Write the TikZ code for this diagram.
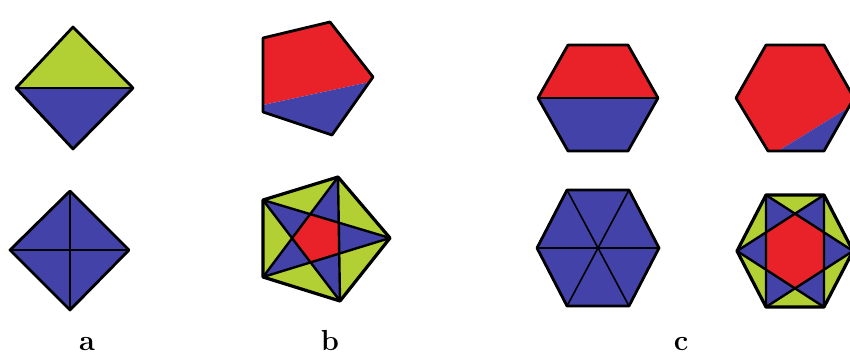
\documentclass[tikz,border=0pt]{standalone}
\usetikzlibrary{calc}
\definecolor{cgreen}{RGB}{178,208,52}
\definecolor{cblue}{RGB}{66,66,168}
\definecolor{cred}{RGB}{232,34,40}
\begin{document}
\begin{tikzpicture}[x=1pt,y=-1pt,
  outline/.style={draw=black,line width=2.8pt,line join=round},
  starline/.style={draw=black,line width=2.4pt,line join=round},
  innerline/.style={draw=black,line width=1.6pt},
  lbl/.style={font=\fontsize{29}{34}\selectfont\bfseries,anchor=base,inner sep=0pt}]
\useasboundingbox (0,0) rectangle (850,357);
\begin{scope}
\clip (0,0) rectangle (850,357);

% ---------- a, top diamond
\coordinate (aT) at (73,27);
\coordinate (aL) at (16,88);
\coordinate (aR) at (133,88);
\coordinate (aB) at (73,149);
\fill[cgreen] (aT) -- (aR) -- (aL) -- cycle;
\fill[cblue] (aL) -- (aR) -- (aB) -- cycle;
\draw[innerline] (aL) -- (aR);
\draw[outline] (aT) -- (aR) -- (aB) -- (aL) -- cycle;

% ---------- a, bottom diamond
\coordinate (dT) at (70,191);
\coordinate (dL) at (10,250);
\coordinate (dR) at (129,250);
\coordinate (dB) at (70,310);
\fill[cblue] (dT) -- (dR) -- (dB) -- (dL) -- cycle;
\draw[innerline] (dL) -- (dR) (dT) -- (dB);
\draw[outline] (dT) -- (dR) -- (dB) -- (dL) -- cycle;

% ---------- b, top pentagon
\coordinate (V0) at (373,77);
\coordinate (V1) at (330,22);
\coordinate (V2) at (263,38);
\coordinate (V3) at (263,112);
\coordinate (V4) at (332,135);
\coordinate (s1) at (263,105);
\coordinate (s2) at (369.5,82);
\fill[cred] (s1) -- (V2) -- (V1) -- (V0) -- (s2) -- cycle;
\fill[cblue] (s1) -- (s2) -- (V4) -- (V3) -- cycle;
\draw[outline] (V0) -- (V1) -- (V2) -- (V3) -- (V4) -- cycle;

% ---------- b, bottom pentagon with star
\coordinate (P0) at (390,238);
\coordinate (P1) at (338,177);
\coordinate (P2) at (263,200);
\coordinate (P3) at (263,277);
\coordinate (P4) at (340,301);
\coordinate (E0) at (intersection of P0--P2 and P1--P4);
\coordinate (E1) at (intersection of P1--P3 and P2--P0);
\coordinate (E2) at (intersection of P2--P4 and P3--P1);
\coordinate (E3) at (intersection of P3--P0 and P4--P2);
\coordinate (E4) at (intersection of P4--P1 and P0--P3);
\fill[cblue] (P0) -- (P1) -- (P2) -- (P3) -- (P4) -- cycle;
\fill[cgreen] (P0) -- (P1) -- (E0) -- cycle;
\fill[cgreen] (P1) -- (P2) -- (E1) -- cycle;
\fill[cgreen] (P2) -- (P3) -- (E2) -- cycle;
\fill[cgreen] (P3) -- (P4) -- (E3) -- cycle;
\fill[cgreen] (P4) -- (P0) -- (E4) -- cycle;
\fill[cred] (E0) -- (E1) -- (E2) -- (E3) -- (E4) -- cycle;
\draw[starline] (P0) -- (P2) -- (P4) -- (P1) -- (P3) -- cycle;
\draw[outline,line width=3.2pt] (P0) -- (P1) -- (P2) -- (P3) -- (P4) -- cycle;

% ---------- c, top-left hexagon
\coordinate (A0) at (658,98);
\coordinate (A1) at (628,45);
\coordinate (A2) at (568,45);
\coordinate (A3) at (538,98);
\coordinate (A4) at (568,151);
\coordinate (A5) at (628,151);
\fill[cred] (A0) -- (A1) -- (A2) -- (A3) -- cycle;
\fill[cblue] (A3) -- (A4) -- (A5) -- (A0) -- cycle;
\draw[innerline] (A3) -- (A0);
\draw[outline] (A0) -- (A1) -- (A2) -- (A3) -- (A4) -- (A5) -- cycle;

% ---------- c, bottom-left hexagon
\coordinate (B0) at (659,248);
\coordinate (B1) at (629,190);
\coordinate (B2) at (567,190);
\coordinate (B3) at (537,248);
\coordinate (B4) at (567,306);
\coordinate (B5) at (629,306);
\fill[cblue] (B0) -- (B1) -- (B2) -- (B3) -- (B4) -- (B5) -- cycle;
\draw[innerline] (B0) -- (B3) (B1) -- (B4) (B2) -- (B5);
\draw[outline] (B0) -- (B1) -- (B2) -- (B3) -- (B4) -- (B5) -- cycle;

% ---------- c, top-right hexagon
\coordinate (C0) at (854,98);
\coordinate (C1) at (824,45);
\coordinate (C2) at (766,45);
\coordinate (C3) at (736,98);
\coordinate (C4) at (768,151);
\coordinate (C5) at (824,151);
\coordinate (t1) at (778,151);
\coordinate (t2) at (848,108);
\fill[cred] (t1) -- (C4) -- (C3) -- (C2) -- (C1) -- (C0) -- (t2) -- cycle;
\fill[cblue] (t1) -- (t2) -- (C5) -- cycle;
\draw[outline] (C0) -- (C1) -- (C2) -- (C3) -- (C4) -- (C5) -- cycle;

% ---------- c, bottom-right hexagon with star
\coordinate (H0) at (853,251);
\coordinate (H1) at (824,195);
\coordinate (H2) at (766,195);
\coordinate (H3) at (737,251);
\coordinate (H4) at (766,307);
\coordinate (H5) at (824,307);
\coordinate (F0) at (intersection of H0--H2 and H1--H5);
\coordinate (F1) at (intersection of H1--H3 and H2--H0);
\coordinate (F2) at (intersection of H2--H4 and H3--H1);
\coordinate (F3) at (intersection of H3--H5 and H4--H2);
\coordinate (F4) at (intersection of H4--H0 and H5--H3);
\coordinate (F5) at (intersection of H5--H1 and H0--H4);
\fill[cblue] (H0) -- (H1) -- (H2) -- (H3) -- (H4) -- (H5) -- cycle;
\fill[cgreen] (H0) -- (H1) -- (F0) -- cycle;
\fill[cgreen] (H1) -- (H2) -- (F1) -- cycle;
\fill[cgreen] (H2) -- (H3) -- (F2) -- cycle;
\fill[cgreen] (H3) -- (H4) -- (F3) -- cycle;
\fill[cgreen] (H4) -- (H5) -- (F4) -- cycle;
\fill[cgreen] (H5) -- (H0) -- (F5) -- cycle;
\fill[cred] (F0) -- (F1) -- (F2) -- (F3) -- (F4) -- (F5) -- cycle;
\draw[starline] (H0) -- (H2) -- (H4) -- cycle;
\draw[starline] (H1) -- (H3) -- (H5) -- cycle;
\draw[outline,line width=3.2pt] (H0) -- (H1) -- (H2) -- (H3) -- (H4) -- (H5) -- cycle;
\end{scope}

% ---------- labels
\node[lbl] (la) at (87,350) {a};
\node[lbl] (lb) at (330,350) {b};
\node[lbl] (lc) at (681,350) {c};
\end{tikzpicture}
\end{document}
